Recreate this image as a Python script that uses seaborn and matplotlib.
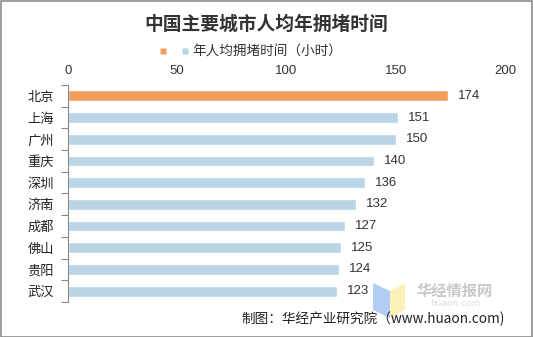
import matplotlib
matplotlib.use("Agg")
import matplotlib.pyplot as plt
from matplotlib.patches import Rectangle, Polygon
from matplotlib.lines import Line2D
import seaborn as sns
import pandas as pd

cities = ["北京", "上海", "广州", "重庆", "深圳", "济南", "成都", "佛山", "贵阳", "武汉"]
hours = [174, 151, 150, 140, 136, 132, 127, 125, 124, 123]
x_ticks = [0, 50, 100, 150, 200]
title = "中国主要城市人均年拥堵时间"
series_label = "年人均拥堵时间（小时）"
source = "制图：华经产业研究院（www.huaon.com)"

ORANGE = "#F09F5E"
BLUE = "#B9D4E5"

sns.set_theme(style="white")
plt.rcParams["font.family"] = ["Noto Sans CJK SC", "DejaVu Sans"]

df = pd.DataFrame({"city": cities, "hours": hours})
bar_colors = [ORANGE] + [BLUE] * (len(cities) - 1)

fig = plt.figure(figsize=(5.33, 3.37), dpi=100)
ax = fig.add_axes([68 / 533, 1 - 302 / 337, (505 - 68) / 533, (302 - 85) / 337])

sns.barplot(data=df, x="hours", y="city", hue="city", palette=bar_colors,
            orient="h", width=0.5, dodge=False, legend=False, ax=ax,
            saturation=1)

for cont in ax.containers:
    ax.bar_label(cont, padding=7, fontsize=9.5, color="#333333",
                 family=["Liberation Sans", "DejaVu Sans"])

ax.set_xlim(0, 200)
ax.set_xticks(x_ticks)
ax.xaxis.tick_top()
ax.tick_params(axis="x", length=0, pad=6, labelsize=9.5, labelcolor="#333333")
for lab in ax.get_xticklabels():
    lab.set_family(["Liberation Sans", "DejaVu Sans"])
ax.set_xlabel("")
ax.set_ylabel("")

# category separators on the left spine
ax.set_ylim(len(cities) - 0.5, -0.5)
ax.set_yticks([i - 0.5 for i in range(len(cities) + 1)], minor=True)
ax.tick_params(axis="y", which="major", length=0, pad=10, labelsize=9.5, labelcolor="#222222")
ax.tick_params(axis="y", which="minor", length=5, width=0.8, color="#888888", left=True)

for side in ["top", "right", "bottom"]:
    ax.spines[side].set_visible(False)
ax.spines["left"].set_color("#888888")
ax.spines["left"].set_linewidth(0.8)

fig.text(0.5, 1 - 24 / 337, title, ha="center", va="center", fontsize=13.5,
         fontweight="bold", color="#333333")

handles = [Line2D([], [], marker="s", linestyle="none", markersize=5,
                  markerfacecolor=ORANGE, markeredgecolor="none"),
           Line2D([], [], marker="s", linestyle="none", markersize=5,
                  markerfacecolor=BLUE, markeredgecolor="none")]
fig.legend(handles, ["", series_label], loc="center",
           bbox_to_anchor=(250 / 533, 1 - 52 / 337), ncol=2, frameon=False,
           fontsize=9.8, handlelength=0.8, handletextpad=0.2, columnspacing=0.6,
           labelcolor="#333333")

# watermark logo
fig.patches.append(Polygon([(373 / 533, 1 - 283 / 337), (390 / 533, 1 - 291 / 337),
                            (390 / 533, 1 - 318 / 337), (373 / 533, 1 - 310 / 337)],
                           closed=True, transform=fig.transFigure,
                           facecolor="#A9C8F2", edgecolor="none", alpha=0.9))
fig.patches.append(Polygon([(390 / 533, 1 - 291 / 337), (405 / 533, 1 - 283 / 337),
                            (405 / 533, 1 - 310 / 337), (390 / 533, 1 - 318 / 337)],
                           closed=True, transform=fig.transFigure,
                           facecolor="#FBEFB0", edgecolor="none", alpha=0.9))
fig.text(455 / 533, 1 - 291 / 337, "华经情报网", ha="center", va="center",
         fontsize=11, fontweight="bold", color="#C9C9C9")
fig.text(455 / 533, 1 - 303.5 / 337, "huaon.com", ha="center", va="center",
         fontsize=6.5, color="#DDDDDD", family=["DejaVu Sans"])

fig.text(505 / 533, 1 - 319 / 337, source, ha="right", va="center",
         fontsize=9.8, color="#222222")

fig.patches.append(Rectangle((0.5 / 533, 0.5 / 337), 1 - 1.5 / 533, 1 - 1.5 / 337,
                             transform=fig.transFigure, fill=False,
                             edgecolor="#8C8C8C", linewidth=1.2))

fig.savefig("out.png", dpi=100)
